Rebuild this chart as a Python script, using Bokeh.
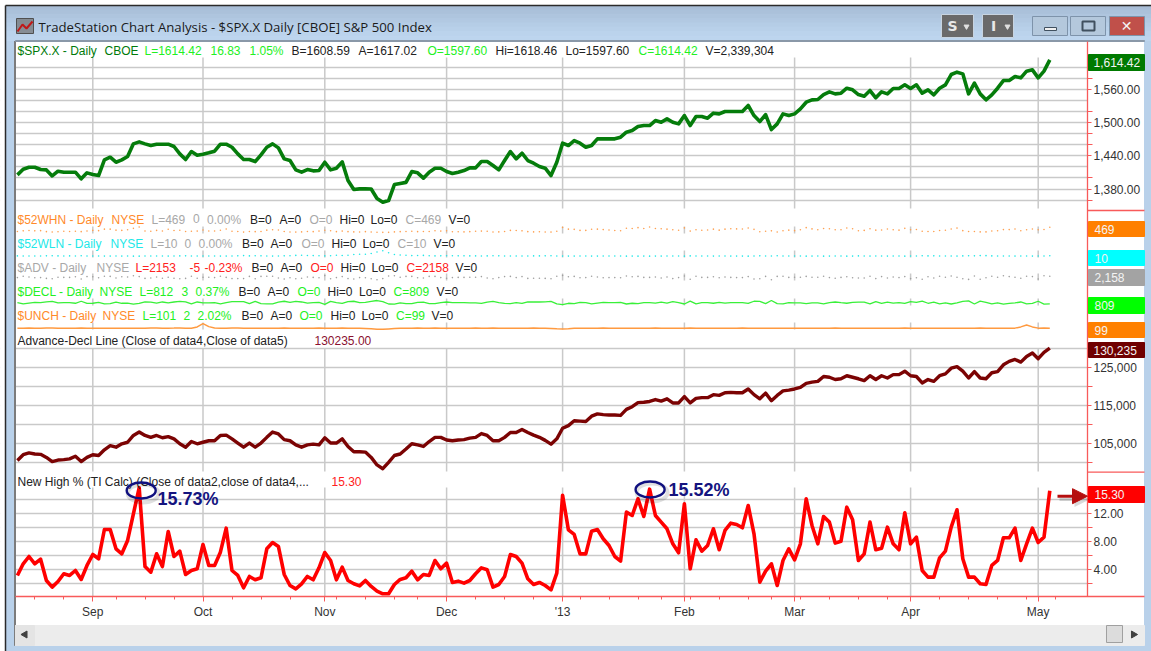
from bokeh.plotting import figure
from bokeh.embed import file_html
from bokeh.resources import INLINE
from bokeh.core.properties import value
from bokeh.models import (Range1d, LinearAxis, FixedTicker, Grid, NumeralTickFormatter,
                          Arrow, NormalHead)

# ---------- data ----------
spx_close = [
 1405.6,1415.9,1419.5,1419.5,1415.3,1414.7,1403.8,1412.3,1410.5,1410.5,
 1410.5,1398.4,1409.3,1406.2,1404.4,1432.9,1437.7,1428.6,1432.9,1438.9,
 1461.9,1465.5,1461.9,1458.9,1461.3,1461.3,1461.3,1457.1,1443.7,1433.5,
 1448.0,1441.3,1443.1,1445.6,1448.6,1461.3,1461.3,1455.8,1443.7,1433.5,
 1433.5,1429.8,1441.9,1455.8,1461.9,1454.6,1434.7,1431.6,1414.7,1410.5,
 1415.3,1412.9,1413.5,1428.6,1414.7,1417.7,1429.2,1395.3,1379.0,1380.2,
 1380.2,1380.0,1362.7,1356.0,1359.0,1388.0,1390.0,1392.0,1411.7,1409.3,
 1399.6,1410.5,1417.7,1417.7,1411.7,1408.1,1410.5,1413.5,1418.3,1418.3,
 1429.8,1429.8,1422.6,1414.7,1431.7,1448.0,1434.7,1445.0,1431.7,1426.8,
 1420.8,1417.7,1404.4,1428.7,1463.1,1458.9,1467.9,1463.1,1455.8,1458.9,
 1471.0,1471.0,1471.0,1471.0,1474.0,1483.1,1486.1,1493.4,1495.2,1495.2,
 1504.2,1501.2,1507.3,1501.2,1498.2,1513.3,1495.2,1511.5,1511.5,1508.5,
 1517.6,1516.3,1520.6,1520.6,1520.6,1520.6,1531.5,1513.3,1502.4,1515.1,
 1487.9,1498.2,1516.3,1513.3,1516.3,1525.4,1537.5,1541.8,1542.4,1551.4,
 1556.3,1552.6,1553.9,1562.9,1559.9,1551.4,1548.4,1558.7,1545.4,1556.3,
 1552.6,1562.3,1562.3,1569.0,1562.3,1569.0,1553.9,1559.9,1550.8,1562.9,
 1569.0,1587.7,1592.0,1588.9,1552.6,1572.0,1552.6,1541.8,1550.8,1562.9,
 1576.8,1576.8,1584.1,1581.7,1593.8,1596.2,1581.7,1593.8,1614.42]

ad_line = [
 100500,102000,102500,102200,102100,101300,100200,100600,100700,100900,
 101600,100200,101300,102000,101800,103300,104400,104000,104900,105300,
 107100,108000,107100,106600,107100,106500,106800,106200,104900,104000,
 105500,104900,105300,105700,105700,107100,107200,106200,105100,104000,
 105100,104000,105100,106600,108000,107500,106000,105700,104600,104000,
 104600,104800,104600,106500,105100,105100,106200,104200,102800,102800,
 102700,101300,99300,98300,100000,101800,102200,103500,104900,104600,
 104200,105500,106600,106600,105900,105700,105900,106000,106400,106600,
 107600,107100,105700,105700,106600,107900,107900,108700,107900,107200,
 106600,105800,104800,106200,109000,109700,111000,110900,110800,112200,
 112800,112600,112500,112500,112400,114000,114700,115800,115900,116100,
 116600,116200,116800,115700,115700,117400,115700,116900,117100,117100,
 117900,117700,118400,118500,118400,118400,119400,117900,116800,118300,
 116300,117700,118900,119100,119400,119800,120900,121200,121400,122700,
 122500,121900,122100,122900,122500,122100,121600,122900,121900,122900,
 122300,123200,123200,124100,122900,122700,121000,121900,121400,122900,
 123400,124900,125300,124100,122300,124000,122300,122100,123700,124000,
 125800,126700,127200,126500,128000,128900,127400,129100,130235]

new_high_pct = [
 3.19,4.86,5.90,4.86,5.52,2.47,1.52,2.33,3.43,3.19,
 3.90,2.62,4.62,6.19,5.57,9.76,9.76,7.00,6.28,8.19,
 12.00,15.73,4.47,3.66,6.28,4.47,9.47,5.90,6.66,3.33,
 3.90,4.14,7.62,4.62,4.62,6.52,9.95,3.90,3.19,1.43,
 3.05,2.57,2.86,7.00,7.90,7.33,3.33,1.76,1.28,2.00,
 3.05,2.57,4.28,6.47,5.33,2.57,4.38,2.47,2.00,1.71,
 2.47,1.62,0.95,0.57,0.57,1.90,2.62,2.86,3.81,2.57,
 3.33,3.19,5.33,4.14,4.95,2.19,2.38,2.09,2.47,3.43,
 4.28,4.00,1.52,1.90,3.05,6.19,5.90,4.95,2.71,1.90,
 2.19,1.76,1.14,3.52,14.66,9.71,9.05,6.28,6.28,9.52,
 9.76,8.43,7.47,5.90,5.24,12.24,11.76,14.14,11.62,15.52,
 11.76,10.81,9.86,7.71,6.43,13.43,4.14,8.28,6.66,7.47,
 9.86,6.86,9.62,10.66,10.47,10.00,13.19,9.14,2.24,3.81,
 4.86,1.76,5.33,7.00,5.43,7.71,14.14,10.33,7.71,11.62,
 10.81,7.81,8.09,12.95,11.14,5.33,6.28,10.81,6.86,7.09,
 10.09,7.71,6.86,12.14,7.71,8.66,3.90,2.95,2.95,5.71,
 6.66,10.09,12.57,5.57,2.95,2.95,2.00,1.90,4.62,5.33,
 8.57,8.57,9.95,5.33,7.71,9.95,7.90,8.66,15.30]

new_highs = [
 100,150,180,150,170,80,50,70,110,100,
 120,80,140,190,170,300,300,210,190,250,
 370,480,140,110,190,140,290,180,200,100,
 120,130,230,140,140,200,310,120,100,40,
 90,80,90,210,240,230,100,50,40,60,
 90,80,130,200,160,80,130,80,60,50,
 80,50,30,20,20,60,80,90,120,80,
 100,100,160,130,150,70,70,60,80,110,
 130,120,50,60,90,190,180,150,80,60,
 70,50,40,110,450,300,280,190,190,290,
 300,260,230,180,160,380,360,430,360,480,
 360,330,300,240,200,410,130,250,200,230,
 300,210,300,330,320,310,400,280,70,120,
 150,50,160,210,170,240,430,320,240,360,
 330,240,250,400,340,160,190,330,210,220,
 310,240,210,370,240,270,120,90,90,180,
 200,310,390,170,90,90,60,60,140,160,
 260,260,310,160,240,310,240,270,469]

new_lows = [
 8,6,5,7,6,9,12,8,7,8,
 6,11,6,5,7,4,4,5,4,5,
 3,3,5,6,5,7,4,6,8,9,
 5,7,6,5,6,4,4,7,9,14,
 8,12,9,5,4,5,9,12,18,22,
 16,14,12,8,12,20,16,22,35,40,
 42,55,85,110,70,35,25,20,14,16,
 18,12,8,9,10,10,9,9,8,8,
 6,8,11,9,7,5,5,5,7,8,
 8,9,11,6,4,4,4,5,5,4,
 4,5,5,6,6,3,4,3,4,3,
 4,4,5,6,6,3,8,5,6,5,
 4,6,5,4,4,4,3,5,9,7,
 6,11,6,5,6,5,3,4,5,3,
 4,5,5,3,4,8,6,4,7,6,
 4,5,6,3,5,6,10,8,9,7,
 6,5,4,8,12,9,14,13,8,7,
 5,5,4,7,5,4,6,5,10]

advancing = [
 1450,2150,1750,1350,1450,1050,850,1650,1550,1550,
 1850,750,1950,1850,1350,2150,2050,1250,1850,1750,
 2350,1950,1050,1250,1750,1150,1650,1150,850,1050,
 2150,1150,1650,1650,1450,2150,1550,950,950,950,
 2050,850,2050,2150,2150,1250,750,1350,850,1150,
 1750,1550,1350,2450,850,1450,1950,950,750,1450,
 1350,850,350,950,2250,2350,1650,2050,2050,1350,
 1250,2050,2050,1450,1150,1450,1550,1550,1650,1650,
 1950,1250,850,1450,1950,2050,1450,1950,1050,1150,
 1150,1050,850,2150,2550,1850,2050,1350,1450,2150,
 1750,1350,1450,1450,1350,2250,1850,2050,1550,1550,
 1750,1250,1750,950,1450,2250,650,2150,1550,1550,
 1850,1350,1750,1550,1450,1450,1950,750,850,2050,
 350,2050,2150,1550,1650,1650,2050,1650,1650,2150,
 1450,1150,1550,1850,1350,1250,1250,2150,950,1950,
 1250,1750,1450,1950,950,1350,650,1850,1250,2150,
 1650,2250,1650,850,550,2250,650,1350,2150,1650,
 2350,1950,1650,1150,2150,1950,750,2350,2158]

declining = [
 1500,800,1200,1600,1500,1900,2100,1300,1400,1400,
 1100,2200,1000,1100,1600,800,900,1700,1100,1200,
 600,1000,1900,1700,1200,1800,1300,1800,2100,1900,
 800,1800,1300,1300,1500,800,1400,2000,2000,2000,
 900,2100,900,800,800,1700,2200,1600,2100,1800,
 1200,1400,1600,500,2100,1500,1000,2000,2200,1500,
 1600,2100,2600,2000,700,600,1300,900,900,1600,
 1700,900,900,1500,1800,1500,1400,1400,1300,1300,
 1000,1700,2100,1500,1000,900,1500,1000,1900,1800,
 1800,1900,2100,800,400,1100,900,1600,1500,800,
 1200,1600,1500,1500,1600,700,1100,900,1400,1400,
 1200,1700,1200,2000,1500,700,2300,800,1400,1400,
 1100,1600,1200,1400,1500,1500,1000,2200,2100,900,
 2600,900,800,1400,1300,1300,900,1300,1300,800,
 1500,1800,1400,1100,1600,1700,1700,800,2000,1000,
 1700,1200,1500,1000,2000,1600,2300,1100,1700,800,
 1300,700,1300,2100,2400,700,2300,1600,800,1300,
 600,1000,1300,1800,800,1000,2200,600,809]

unchanged = [
 98,100,101,99,100,102,101,100,99,100,
 99,102,100,98,100,97,99,100,99,100,
 98,97,100,101,102,99,100,101,103,100,
 99,118,165,122,101,100,99,102,101,100,
 99,100,98,99,97,100,101,100,98,99,
 100,99,101,97,99,100,101,100,99,98,
 95,90,84,82,88,94,98,99,100,101,
 100,99,101,100,99,100,98,99,100,101,
 99,100,101,100,99,98,99,97,100,101,
 100,99,96,90,86,90,97,99,100,99,
 100,101,99,100,99,100,98,99,100,99,
 101,100,99,100,99,100,101,99,100,99,
 100,99,100,99,100,101,98,100,99,100,
 100,99,100,99,100,98,99,100,99,100,
 100,101,99,100,99,100,99,98,100,99,
 100,99,100,101,99,100,99,100,99,100,
 100,99,98,100,99,100,101,100,99,100,
 99,100,100,118,145,118,100,101,99]

bars = list(range(len(spx_close)))
month_bars = [13, 32, 53, 74, 94, 115, 134, 154, 176]
month_labels = ["Sep", "Oct", "Nov", "Dec", "'13", "Feb", "Mar", "Apr", "May"]
week_bars = [3, 8, 17, 22, 27, 37, 42, 47, 55, 60, 65, 69, 79, 84, 89, 97, 102, 107, 111,
             116, 121, 126, 130, 135, 140, 145, 150, 159, 164, 169, 174, 179]

spx_labeled = [1380, 1440, 1500, 1560]
spx_minor = [1360, 1400, 1460, 1480, 1520, 1580]
spx_grid = [1360, 1380, 1400, 1420, 1440, 1460, 1480, 1500, 1520, 1540, 1560, 1580, 1600]
ad_labeled = [105000, 115000, 125000]
ad_minor = [100000, 110000, 120000]
ad_grid = [100000, 105000, 110000, 115000, 120000, 125000, 130000]
nh_labeled = [4, 8, 12]
nh_minor = [2, 6, 10, 14]
nh_grid = [2, 4, 6, 8, 10, 12, 14]

GREEN, LIME, BLACK, ORANGE, CYAN, GRAY, RED, DRED = "#007a0a", "#22f022", "#222222", "#ff8a2a", "#22e8e8", "#a8a8a8", "#ff2020", "#7a0000"
legend_rows = [
 (50, [(17, "$SPX.X - Daily", GREEN), (104, "CBOE", GREEN), (144, "L=1614.42", LIME), (210, "16.83", LIME),
       (249, "1.05%", LIME), (291, "B=1608.59", BLACK), (358, "A=1617.02", BLACK), (427, "O=1597.60", LIME),
       (495, "Hi=1618.46", BLACK), (565, "Lo=1597.60", BLACK), (638, "C=1614.42", LIME), (705, "V=2,339,304", BLACK)]),
 (219, [(17, "$52WHN - Daily", ORANGE), (111, "NYSE", ORANGE), (151, "L=469", GRAY), (192.6, "0", GRAY), (206.6, "0.00%", GRAY),
        (249.6, "B=0", BLACK), (279, "A=0", BLACK), (309, "O=0", GRAY), (339, "Hi=0", BLACK), (370, "Lo=0", BLACK),
        (405, "C=469", GRAY), (448, "V=0", BLACK)]),
 (243.5, [(17, "$52WLN - Daily", CYAN), (110, "NYSE", CYAN), (150, "L=10", GRAY), (184, "0", GRAY), (198, "0.00%", GRAY),
        (241.5, "B=0", BLACK), (270, "A=0", BLACK), (301, "O=0", GRAY), (331, "Hi=0", BLACK), (362, "Lo=0", BLACK),
        (397, "C=10", GRAY), (433, "V=0", BLACK)]),
 (267, [(17, "$ADV - Daily", GRAY), (96, "NYSE", GRAY), (135, "L=2153", RED), (189, "-5", RED), (204, "-0.23%", RED),
        (251, "B=0", BLACK), (280, "A=0", BLACK), (310, "O=0", RED), (340, "Hi=0", BLACK), (371, "Lo=0", BLACK),
        (406, "C=2158", RED), (455, "V=0", BLACK)]),
 (291.5, [(17, "$DECL - Daily", LIME), (99, "NYSE", LIME), (139, "L=812", LIME), (181, "3", LIME), (195, "0.37%", LIME),
        (238, "B=0", BLACK), (267, "A=0", BLACK), (297, "O=0", LIME), (327, "Hi=0", BLACK), (358.5, "Lo=0", BLACK),
        (393, "C=809", LIME), (436, "V=0", BLACK)]),
 (315.5, [(17, "$UNCH - Daily", ORANGE), (102, "NYSE", ORANGE), (142, "L=101", LIME), (183, "2", LIME), (197, "2.02%", LIME),
        (241, "B=0", BLACK), (270, "A=0", BLACK), (299, "O=0", LIME), (330, "Hi=0", BLACK), (361, "Lo=0", BLACK),
        (395.5, "C=99", LIME), (431, "V=0", BLACK)]),
 (340, [(17, "Advance-Decl Line (Close of data4,Close of data5)", BLACK), (314, "130235.00", "#8a1030")]),
 (481, [(17, "New High % (TI Calc) (Close of data2,close of data4,...", BLACK), (331, "15.30", RED)]),
]
value_tags = [
 ("1,614.42", 54, 70, "#007a00"), ("469", 221, 236, "#ff8000"), ("10", 250, 265, "#00ffff"),
 ("2,158", 269, 285, "#a3a3a3"), ("809", 297, 313, "#00ff00"), ("99", 322, 337, "#ff8000"),
 ("130,235", 342, 357, "#700000"), ("15.30", 486, 502, "#ff0000"),
]

# ---------- geometry of the page in reference pixels ----------
L, R, T, B = 0, 1151, 0, 651
W, H = R - L, B - T
WIN_L, WIN_T, IN_R, IN_B = 5, 5, 1144, 645
PLOT_R = 1087
BAR0, BAR_W = 16.9, 5.8


def yrange(v1, y1, v2, y2):
    k = (v2 - v1) / (y2 - y1)
    return Range1d(start=v1 + (B - y1) * k, end=v1 + (T - y1) * k)


p = figure(width=W, height=H, output_backend="svg", toolbar_location=None,
           x_axis_type=None, y_axis_type=None, min_border=0, outline_line_color=None,
           x_range=Range1d(L, R), y_range=Range1d(B, T))
p.extra_x_ranges["bar"] = Range1d((L - BAR0) / BAR_W, (R - BAR0) / BAR_W)
p.extra_y_ranges["spx"] = yrange(1560, 89.3, 1380, 188.5)
p.extra_y_ranges["ad"] = yrange(125000, 367.3, 105000, 442.9)
p.extra_y_ranges["nh"] = yrange(0, 597.3, 12, 513.3)
p.extra_y_ranges["whn"] = yrange(469, 226.7, 50, 231.5)
p.extra_y_ranges["wln"] = yrange(10, 255.3, 110, 250.3)
p.extra_y_ranges["adv"] = yrange(2158, 275.7, 1158, 277.7)
p.extra_y_ranges["dec"] = yrange(809, 303.3, 2609, 300.0)
p.extra_y_ranges["unc"] = yrange(99, 327.7, 165, 323.2)

FONT = value("Liberation Sans")
GRID = "#c9c9c9"
AXIS_RED = "#f85a5a"

# horizontal grid lines of the three main panes
for name, ticks in (("spx", spx_grid), ("ad", ad_grid), ("nh", nh_grid)):
    p.add_layout(Grid(dimension=1, y_range_name=name, ticker=FixedTicker(ticks=ticks),
                      grid_line_color=GRID, grid_line_width=1.5))

# window chrome
p.quad(left=[L], right=[WIN_L], top=[T], bottom=[B], color="white")
p.quad(left=[WIN_L], right=[14], top=[WIN_T], bottom=[B], color="#b9d1ea")
p.quad(left=[14], right=[15], top=[40], bottom=[IN_B], color="#7c7c7c")
p.quad(left=[PLOT_R], right=[IN_R], top=[40], bottom=[625], color="white")
p.quad(left=[IN_R], right=[R], top=[WIN_T], bottom=[B], color="#b9d1ea")
p.quad(left=[15], right=[R], top=[IN_B], bottom=[B], color="#b9d1ea")
bands = ["#a8bdd6", "#abc1da", "#aec5de", "#b2c9e2", "#b5cde6", "#b8d0e9", "#bbd3ec", "#bdd5ee"]
band_h = (40 - WIN_T) / len(bands)
for i, c in enumerate(bands):
    p.quad(left=[WIN_L], right=[R], top=[WIN_T + i * band_h], bottom=[WIN_T + (i + 1) * band_h], color=c)
p.quad(left=[L], right=[R], top=[T], bottom=[WIN_T], color="white")
p.segment(x0=[WIN_L, WIN_L], x1=[R, WIN_L], y0=[WIN_T, WIN_T], y1=[WIN_T, B], line_color="#2a2a2a", line_width=1.5)
p.quad(left=[15], right=[IN_R], top=[40], bottom=[41], color="#8a98a8")
p.quad(left=[15], right=[IN_R], top=[625], bottom=[IN_B], color="#ececec")
p.quad(left=[15], right=[34], top=[625], bottom=[IN_B], color="#e4e4e4")
p.quad(left=[1106], right=[1122], top=[625], bottom=[642], fill_color="#dcdcdc", line_color="#a0a0a0")
p.scatter(x=[24.5], y=[634], marker="triangle", angle=[1.5708], size=7, color="#404040")
p.scatter(x=[1133], y=[634], marker="triangle", angle=[-1.5708], size=7, color="#404040")

# vertical grid lines, pane by pane
v_x = month_bars
for top, bottom in ((57, 208), (226, 233), (250, 257), (273, 280), (298, 305), (322, 329), (348, 471), (487, 596)):
    p.segment(x0=v_x, x1=v_x, y0=[top] * len(v_x), y1=[bottom] * len(v_x), x_range_name="bar",
              line_color=GRID, line_width=1.5)

# value axis rule and pane separators
p.segment(x0=[PLOT_R, PLOT_R, PLOT_R], x1=[IN_R, IN_R, PLOT_R], y0=[210, 471.7, 41], y1=[210, 471.7, 596],
          line_color=AXIS_RED, line_width=1.3)

# series
p.line(bars, spx_close, y_range_name="spx", x_range_name="bar", line_color="#057c0b", line_width=3.6, line_join="round")
p.line(bars, ad_line, y_range_name="ad", x_range_name="bar", line_color="#7b0303", line_width=3.4, line_join="round")
p.line(bars, new_high_pct, y_range_name="nh", x_range_name="bar", line_color="#ff0000", line_width=3.6, line_join="round")
p.scatter(bars, new_highs, y_range_name="whn", x_range_name="bar", size=1.6, color="#ffa050", line_color=None)
p.scatter(bars, new_lows, y_range_name="wln", x_range_name="bar", size=1.6, color="#20e8e8", line_color=None)
p.scatter(bars, advancing, y_range_name="adv", x_range_name="bar", size=1.6, color="#a0a0a0", line_color=None)
p.line(bars, declining, y_range_name="dec", x_range_name="bar", line_color="#39f039", line_width=1.3)
p.line(bars, unchanged, y_range_name="unc", x_range_name="bar", line_color="#ff9a40", line_width=1.5)


def right_axis(name, labeled, minor, fmt=None):
    ax = LinearAxis(y_range_name=name, fixed_location=PLOT_R,
                    ticker=FixedTicker(ticks=labeled, minor_ticks=minor))
    ax.axis_line_color = None
    ax.major_tick_line_color = AXIS_RED
    ax.minor_tick_line_color = AXIS_RED
    ax.major_tick_in = 0
    ax.minor_tick_in = 0
    ax.major_tick_out = 4
    ax.minor_tick_out = 5
    ax.major_label_standoff = 1
    ax.major_label_text_font = "Liberation Sans"
    ax.major_label_text_font_size = "12px"
    ax.major_label_text_color = "#333333"
    if fmt:
        ax.formatter = NumeralTickFormatter(format=fmt)
    p.add_layout(ax, "right")


right_axis("spx", spx_labeled, spx_minor, "0,0.00")
right_axis("ad", ad_labeled, ad_minor, "0,0")
right_axis("nh", nh_labeled, nh_minor, "0.00")

# time axis
xa = LinearAxis(x_range_name="bar", fixed_location=596,
                ticker=FixedTicker(ticks=month_bars, minor_ticks=week_bars),
                major_label_overrides=dict(zip(month_bars, month_labels)),
                bounds=((15 - BAR0) / BAR_W, (IN_R - BAR0) / BAR_W))
xa.axis_line_color = AXIS_RED
xa.axis_line_width = 1.3
xa.major_tick_line_color = AXIS_RED
xa.minor_tick_line_color = AXIS_RED
xa.major_tick_in = 0
xa.minor_tick_in = 0
xa.major_tick_out = 5
xa.minor_tick_out = 3
xa.major_label_standoff = 3
xa.major_label_text_font = "Liberation Sans"
xa.major_label_text_font_size = "12px"
xa.major_label_text_color = "#333333"
p.add_layout(xa, "below")

# last-value tags in the price scale
for text, top, bottom, color in value_tags:
    p.quad(left=[PLOT_R + 1], right=[IN_R], top=[top], bottom=[bottom], color=color, level="annotation")
    tx = 1094 if len(text) < 7 else 1093
    p.text(x=[tx], y=[(top + bottom) / 2], text=[text], text_font=FONT, text_font_size="12px",
           text_color="#f4f4f4", text_baseline="alphabetic", level="annotation")

# legends
for y, parts in legend_rows:
    for x, text, color in parts:
        shift = -1 if text.isdigit() else 0
        p.text(x=[x], y=[y + shift], text=[text], text_font=FONT, text_font_size="12px", text_color=color,
               text_baseline="alphabetic", level="annotation")

# circled peaks and their notes
for cx, cy, tx, ty, note in ((140.7, 490, 157, 498, "15.73%"), (649.6, 489, 668, 489, "15.52%")):
    p.ellipse(x=[cx + 2], y=[cy + 3], width=[31], height=[18], fill_color=None, line_color="#000000",
              line_alpha=0.12, line_width=4, level="annotation")
    p.ellipse(x=[cx], y=[cy], width=[29], height=[16], fill_color=None, line_color="#10107f", line_width=2.4,
              level="annotation")
    p.text(x=[tx], y=[ty], text=[note], text_font=FONT, text_font_size="18px", text_font_style="bold",
           text_color="#14147f", text_baseline="alphabetic", level="annotation")

# arrow at the last value
p.add_layout(Arrow(end=NormalHead(size=15, fill_color="#000000", fill_alpha=0.15, line_color=None),
                   x_start=1059, y_start=499, x_end=1089, y_end=499, line_color="#000000", line_alpha=0.15, line_width=3))
p.add_layout(Arrow(end=NormalHead(size=15, fill_color="#b50f0f", line_color="#b50f0f"),
                   x_start=1057, y_start=495.7, x_end=1087, y_end=495.7, line_color="#b50f0f", line_width=3))

# title bar
p.text(x=[38], y=[26], text=["TradeStation Chart Analysis - $SPX.X Daily [CBOE] S&P 500 Index"],
       text_font=value("Open Sans"), text_font_size="13.2px", text_color="#1a1a1a", text_baseline="alphabetic")
p.quad(left=[16], right=[33], top=[18], bottom=[33], fill_color="#707070", line_color="#505050", fill_alpha=0.7)
p.line(x=[17, 22, 26, 32], y=[31, 24, 28, 21], line_color="#c01818", line_width=2)

for l, r, tag in ((941, 973, "S"), (982, 1013, "I")):
    p.quad(left=[l], right=[r], top=[14], bottom=[37], fill_color="#6a6a6a", line_color="#c8d4e0")
    p.text(x=[l + 11], y=[25], text=[tag], text_font=value("DejaVu Sans"), text_font_size="14px",
           text_font_style="bold", text_color="#e8e8e8", text_align="center", text_baseline="alphabetic")
    p.scatter(x=[l + 25], y=[26], marker="inverted_triangle", size=5, color="#e0e0e0")
for l, r, c in ((1032, 1067, "#b4c8dc"), (1070, 1105, "#b4c8dc"), (1109, 1144, "#c0504a")):
    p.quad(left=[l], right=[r], top=[16], bottom=[35], fill_color=c, line_color="#7e93aa")
p.quad(left=[1044], right=[1056], top=[27], bottom=[30], fill_color="#f0f0f0", line_color="#40505f")
p.quad(left=[1082], right=[1094], top=[21], bottom=[30], fill_color=None, line_color="#40505f", line_width=2)
p.text(x=[1126], y=[25], text=["\u2715"], text_font=value("DejaVu Sans"), text_font_size="14px",
       text_font_style="bold", text_color="#f4f4f4", text_align="center", text_baseline="alphabetic")

open("out.html", "w").write(file_html(p, INLINE))
